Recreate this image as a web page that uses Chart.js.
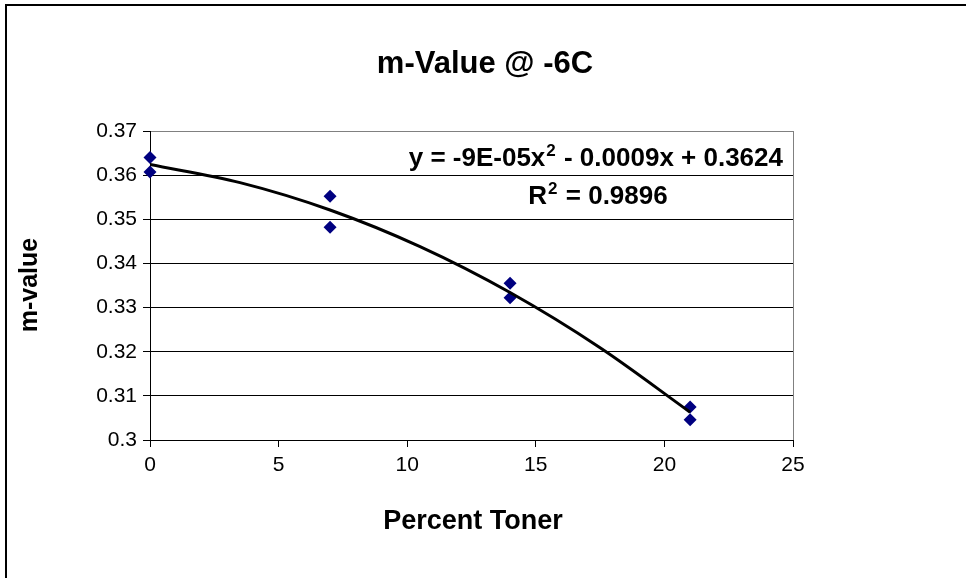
<!DOCTYPE html>
<html><head><meta charset="utf-8">
<script src="https://cdn.jsdelivr.net/npm/chart.js@4"></script>
<style>html,body{margin:0;padding:0;background:#fff}#wrap{width:966px;height:578px;position:relative}</style>
</head><body><div id="wrap"><canvas id="c" width="966" height="578"></canvas></div>
<script>
const chartTitle = 'm-Value @ -6C';
const xTitle = 'Percent Toner';
const yTitle = 'm-value';
const percentToner = [0, 0, 7, 7, 14, 14, 21, 21];
const mValue = [0.3640, 0.3607, 0.3552, 0.3482, 0.3355, 0.3322, 0.3075, 0.3046];
const trendX = [0, 3.5, 7, 10.5, 14, 17.5, 21];
const trendY = [0.3624, 0.3583, 0.3521, 0.3438, 0.3334, 0.3209, 0.3063];
const xTicks = [0, 5, 10, 15, 20, 25];
const yTicks = [0.3, 0.31, 0.32, 0.33, 0.34, 0.35, 0.36, 0.37];
const yTickLabels = ['0.3', '0.31', '0.32', '0.33', '0.34', '0.35', '0.36', '0.37'];
const eqParts = ['y = -9E-05x', '2', ' - 0.0009x + 0.3624'];
const r2Parts = ['R', '2', ' = 0.9896'];

const FONT = '"Liberation Sans", Arial, sans-serif';

const decor = {
  id: 'decor',
  beforeDraw(chart) {
    const ctx = chart.ctx;
    ctx.save();
    ctx.fillStyle = '#fff';
    ctx.fillRect(0, 0, chart.width, chart.height);
    ctx.fillStyle = '#000';
    ctx.fillRect(5, 4, chart.width - 5, 2);
    ctx.fillRect(5, 4, 2, chart.height - 4);
    ctx.restore();
  },
  afterDatasetsDraw(chart) {
    const ctx = chart.ctx;
    const a = chart.chartArea;
    ctx.save();
    ctx.strokeStyle = '#808080';
    ctx.lineWidth = 1;
    ctx.beginPath();
    ctx.moveTo(Math.round(a.right) + 0.5, a.top);
    ctx.lineTo(Math.round(a.right) + 0.5, a.bottom);
    ctx.stroke();
    ctx.restore();
  },
  afterDraw(chart) {
    const ctx = chart.ctx;
    ctx.save();
    ctx.fillStyle = '#000';
    ctx.textBaseline = 'middle';
    ctx.textAlign = 'center';
    ctx.font = 'bold 31px ' + FONT;
    ctx.fillText(chartTitle, 485, 64);
    ctx.font = 'bold 27px ' + FONT;
    ctx.fillText(xTitle, 473, 522);
    ctx.save();
    ctx.translate(30, 285);
    ctx.rotate(-Math.PI / 2);
    ctx.font = 'bold 25px ' + FONT;
    ctx.fillText(yTitle, 0, 0);
    ctx.restore();

    const drawSup = (parts, x, y, align) => {
      const big = 'bold 26px ' + FONT, small = 'bold 17px ' + FONT;
      ctx.font = big; const w0 = ctx.measureText(parts[0]).width;
      ctx.font = small; const w1 = ctx.measureText(parts[1]).width;
      ctx.font = big; const w2 = ctx.measureText(parts[2]).width;
      const tw = w0 + w1 + w2 + 2;
      const sx = align === 'right' ? x - tw : x - tw / 2;
      ctx.textAlign = 'left';
      ctx.textBaseline = 'alphabetic';
      ctx.font = big; ctx.fillText(parts[0], sx, y);
      ctx.font = small; ctx.fillText(parts[1], sx + w0 + 1, y - 10);
      ctx.font = big; ctx.fillText(parts[2], sx + w0 + w1 + 2, y);
    };
    drawSup(eqParts, 783, 166, 'right');
    drawSup(r2Parts, 598, 204, 'center');
    ctx.restore();
  }
};

new Chart(document.getElementById('c'), {
  type: 'scatter',
  data: {
    datasets: [
      {
        label: 'trend',
        data: trendX.map((x, i) => ({ x: x, y: trendY[i] })),
        showLine: true,
        borderColor: '#000',
        borderWidth: 3,
        pointRadius: 0,
        tension: 0.4,
        cubicInterpolationMode: 'monotone',
        fill: false
      },
      {
        label: 'm-value',
        data: percentToner.map((x, i) => ({ x: x, y: mValue[i] })),
        pointStyle: 'rectRot',
        pointRadius: 6.5,
        backgroundColor: '#000080',
        borderColor: '#000080',
        borderWidth: 0,
        clip: false
      }
    ]
  },
  options: {
    responsive: false,
    animation: false,
    devicePixelRatio: 1,
    layout: { padding: { left: 6, top: 131, right: 173, bottom: 0 } },
    plugins: { legend: { display: false }, tooltip: { enabled: false }, title: { display: false } },
    scales: {
      x: {
        type: 'linear', min: 0, max: 25,
        afterBuildTicks: s => { s.ticks = xTicks.map(v => ({ value: v })); },
        afterFit: s => { s.height = 138; },
        ticks: { color: '#000', font: { family: FONT, size: 21 }, padding: 6, maxRotation: 0 },
        grid: { drawOnChartArea: false, tickLength: 7, color: '#000', tickColor: '#000' },
        border: { color: '#000', width: 1 }
      },
      y: {
        type: 'linear', min: 0.3, max: 0.37,
        afterBuildTicks: s => { s.ticks = yTicks.map(v => ({ value: v })); },
        afterFit: s => { s.width = 144; },
        ticks: {
          color: '#000', font: { family: FONT, size: 21 }, padding: 6,
          callback: (v, i) => yTickLabels[i]
        },
        grid: {
          tickLength: 7,
          color: ctx => (ctx.tick && Math.abs(ctx.tick.value - 0.37) < 1e-9) ? '#808080' : '#000',
          tickColor: '#000'
        },
        border: { color: '#000', width: 1 }
      }
    }
  },
  plugins: [decor]
});
</script>
</body></html>
